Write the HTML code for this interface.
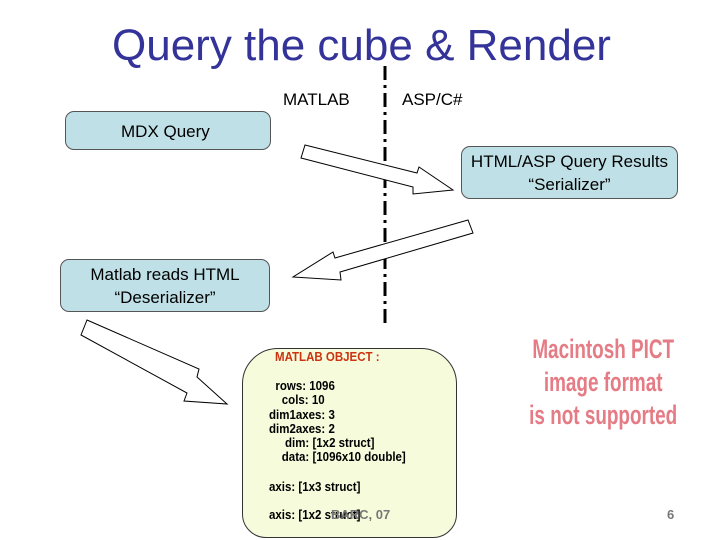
<!DOCTYPE html>
<html><head><meta charset="utf-8"><style>
body{margin:0;width:720px;height:540px;background:#fff;position:relative;overflow:hidden;font-family:"Liberation Sans",sans-serif}
.t{position:absolute;white-space:nowrap}
.box{position:absolute;background:#bfe0e6;border:1px solid #555;border-radius:9px;box-sizing:border-box;font-size:17px;text-align:center;line-height:23px}
.m{font-weight:bold;transform:scaleX(0.92);transform-origin:left top}
</style></head><body>
<div class="t" style="left:112px;top:24px;font-size:44px;line-height:1;color:#333399">Query the cube &amp; Render</div>
<svg width="720" height="540" style="position:absolute;left:0;top:0">
<line x1="385" y1="66" x2="385" y2="325" stroke="#000" stroke-width="3" stroke-dasharray="14,5,3,5"/>
<polygon points="87,320 199,369 197,377 227,404 184,401 187,393 81,335" fill="#fff" stroke="#000" stroke-width="1"/>
<polygon points="305,145 417,173 419,167 453,190 413,194 413,187 301,158" fill="#fff" stroke="#000" stroke-width="1"/>
<polygon points="468,220 335,258 333,252 293,277 341,280 340,272 473,233" fill="#fff" stroke="#000" stroke-width="1"/>
</svg>
<div class="t" style="left:283px;top:90px;font-size:17px">MATLAB</div>
<div class="t" style="left:402px;top:90px;font-size:17px">ASP/C#</div>
<div class="box" style="left:65px;top:111px;width:206px;height:39px;text-align:left;padding:8px 0 0 55px">MDX Query</div>
<div class="box" style="left:461px;top:146px;width:217px;height:53px;padding-top:3px">HTML/ASP Query Results<br>“Serializer”</div>
<div class="box" style="left:60px;top:259px;width:210px;height:53px;padding-top:3px">Matlab reads HTML<br>“Deserializer”</div>
<div style="position:absolute;left:242px;top:348px;width:215px;height:190px;background:#f6fbdc;border:1px solid #333;border-radius:36px 36px 24px 24px;box-sizing:border-box"></div>
<div class="t m" style="left:275px;top:350px;font-size:12.5px;color:#cc3311">MATLAB OBJECT :</div>
<div class="t m" style="left:269px;top:379px;font-size:12.5px;line-height:14.3px">&nbsp;&nbsp;rows: 1096<br>&nbsp;&nbsp;&nbsp;&nbsp;cols: 10<br>dim1axes: 3<br>dim2axes: 2<br>&nbsp;&nbsp;&nbsp;&nbsp;&nbsp;dim: [1x2 struct]<br>&nbsp;&nbsp;&nbsp;&nbsp;data: [1096x10 double]</div>
<div class="t m" style="left:269px;top:480px;font-size:12.5px">axis: [1x3 struct]</div>
<div class="t m" style="left:269px;top:508px;font-size:12.5px">axis: [1x2 struct]</div>
<div class="t" style="left:331px;top:507px;font-size:13px;font-weight:bold;color:#777">BARC, 07</div>
<div class="t" style="left:667px;top:507px;font-size:13px;font-weight:bold;color:#777">6</div>
<div class="t" style="left:529px;top:333px;font-size:27px;line-height:33px;color:#e57b84;font-weight:bold;text-align:center;transform:scaleX(0.7);transform-origin:left top;width:212px">Macintosh PICT<br>image format<br>is not supported</div>
</body></html>
